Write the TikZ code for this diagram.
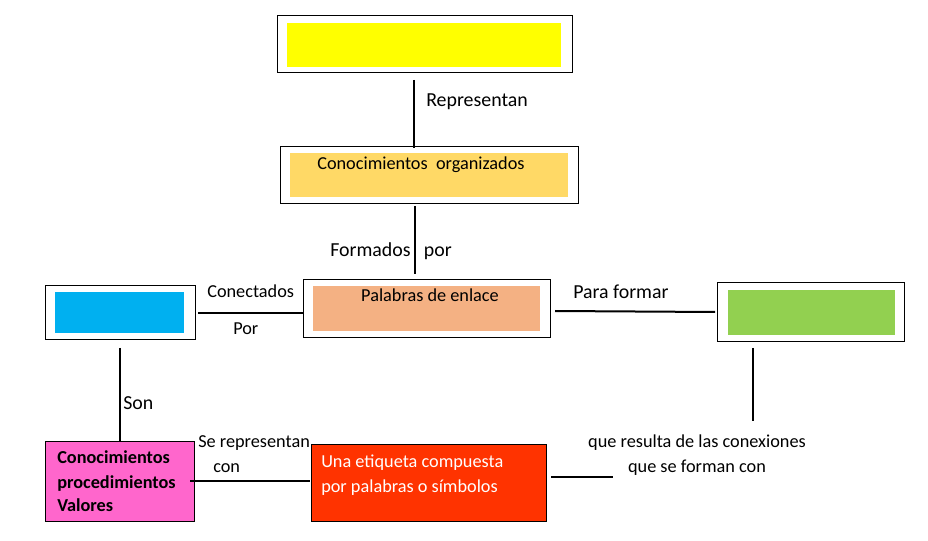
\documentclass[tikz,border=0pt]{standalone}
\usepackage{fontspec}
\setmainfont{Carlito}
\usetikzlibrary{calc, positioning}

\definecolor{yellowc}{HTML}{FFFF00}
\definecolor{goldc}{HTML}{FFD966}
\definecolor{peachc}{HTML}{F4B183}
\definecolor{bluec}{HTML}{00B0F0}
\definecolor{greenc}{HTML}{92D050}
\definecolor{pinkc}{HTML}{FF66CC}
\definecolor{redc}{HTML}{FF3300}

\begin{document}
\begin{tikzpicture}[x=0.75pt,y=-0.75pt,font=\fontsize{13.7}{17}\selectfont,
    frame/.style={draw, line width=0.75pt, fill=white, inner sep=0pt, outer sep=0pt},
    fillbox/.style={fill=#1, inner sep=0pt, outer sep=0pt},
    link/.style={line width=1.5pt},
    lbl/.style={anchor=base west, inner sep=0pt},
    biglbl/.style={lbl, font=\fontsize{14.9}{18}\selectfont}]
    \useasboundingbox[fill=white] (0,0) rectangle (928,541);

    % framed boxes
    \node[frame, minimum width=221.25pt, minimum height=42.75pt] (topbox) at (424.5,44.5) {};
    \node[fillbox=yellowc, minimum width=205.5pt, minimum height=33pt] (topfill) at (424,45) {};

    \node[frame, minimum width=223.5pt, minimum height=42.75pt] (orgbox) at (429,175.5) {};
    \node[fillbox=goldc, minimum width=208.5pt, minimum height=33pt] (orgfill) at (429,175) {};
    \node[lbl] (orgtext) at (317,170) {Conocimientos\ \ organizados};

    \node[frame, minimum width=185.25pt, minimum height=43.5pt] (enlbox) at (426.5,309) {};
    \node[fillbox=peachc, minimum width=170.25pt, minimum height=33.75pt] (enlfill) at (426.5,308.5) {};
    \node[anchor=base, inner sep=0pt] (enltext) at (430,302) {Palabras de enlace};

    \node[frame, minimum width=112.5pt, minimum height=40.5pt] (leftbox) at (120,313) {};
    \node[fillbox=bluec, minimum width=96.75pt, minimum height=30.75pt] (leftfill) at (119.5,312.5) {};

    \node[frame, minimum width=140.25pt, minimum height=44.25pt] (rightbox) at (810.5,312.5) {};
    \node[fillbox=greenc, minimum width=125.25pt, minimum height=33.75pt] (rightfill) at (811.5,312.5) {};

    % bottom boxes
    \node[frame, fill=pinkc, minimum width=111.75pt, minimum height=60pt] (pinkbox) at (119.5,481) {};
    \node[lbl, font=\fontsize{13.7}{17}\selectfont\bfseries] (pinkA) at (57,463.5) {Conocimientos};
    \node[lbl, font=\fontsize{13.7}{17}\selectfont\bfseries] (pinkB) at (57,488) {procedimientos};
    \node[lbl, font=\fontsize{13.7}{17}\selectfont\bfseries] (pinkC) at (57,511.5) {Valores};

    \node[frame, fill=redc, minimum width=176.25pt, minimum height=57.75pt] (redbox) at (428.5,482.5) {};
    \node[lbl, text=white] (redA) at (321,467) {Una etiqueta compuesta};
    \node[lbl, text=white] (redB) at (321,492) {por palabras o símbolos};

    % free ends
    \coordinate (redend) at (613,477);
    \coordinate (rightend) at (753,421);

    % connectors
    \draw[link] ($(topbox.south)+(-10.5,7)$) -- ($(orgbox.north)+(-15,1)$);
    \draw[link] ($(orgbox.south)+(-14,2)$) -- ($(enlbox.north)+(-11.5,-6)$);
    \draw[link] ($(leftbox.east)+(3,0)$) -- ($(enlbox.west)+(0,4)$);
    \draw[link] ($(enlbox.east)+(5,2)$) -- ($(rightbox.west)+(-2,-0.5)$);
    \draw[link] ($(leftbox.south)+(0,8)$) -- ($(pinkbox.north)+(0.5,0)$);
    \draw[link] ($(pinkbox.east)+(-4,0)$) -- ($(redbox.west)+(-1,-1.5)$);
    \draw[link] ($(redbox.east)+(5,-5.5)$) -- (redend);
    \draw[link] ($(rightbox.south)+(-57.5,6)$) -- (rightend);

    % connector labels
    \node[biglbl] (lrep) at (426,107) {Representan};
    \node[biglbl] (lform) at (330,257) {Formados\hspace{10pt}por};
    \node[lbl] (lcon) at (207,297.5) {Conectados};
    \node[lbl] (lpor) at (233,334.5) {Por};
    \node[biglbl] (lpara) at (573,298.5) {Para formar};
    \node[biglbl] (lson) at (123,410) {Son};
    \node[lbl] (lse) at (198,447) {Se representan};
    \node[lbl] (lcn) at (213,472) {con};
    \node[anchor=base, inner sep=0pt] (lres) at (697,447) {que resulta de las conexiones};
    \node[anchor=base, inner sep=0pt] (lque) at (697,472) {que se forman con};
\end{tikzpicture}
\end{document}
